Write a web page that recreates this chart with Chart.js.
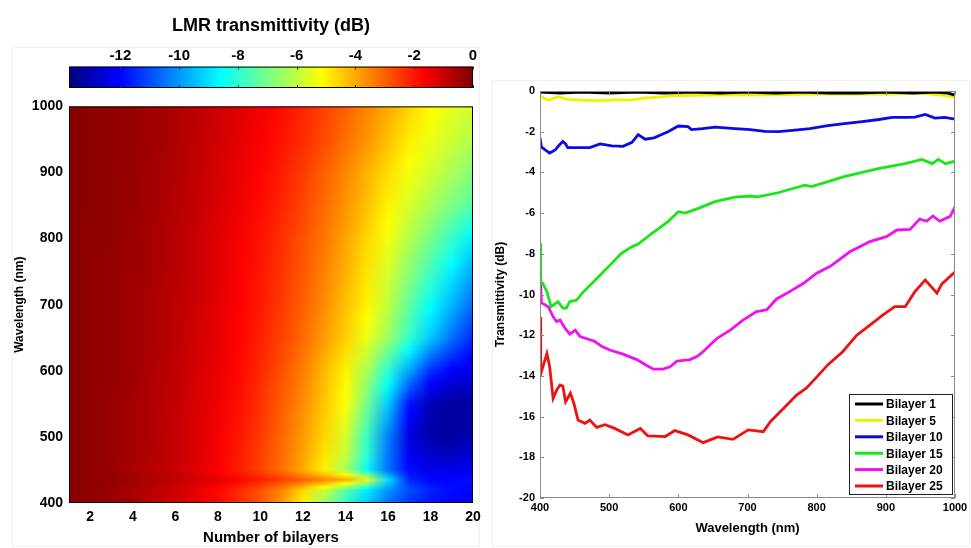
<!DOCTYPE html>
<html>
<head>
<meta charset="utf-8">
<script src="https://cdn.jsdelivr.net/npm/chart.js@4.4.0/dist/chart.umd.min.js"></script>
<style>
  body { margin: 0; background: #fff; }
  #wrap { position: relative; width: 971px; height: 548px; overflow: hidden; }
  canvas { position: absolute; }
  .frame { position: absolute; border: 1px solid #f0f0f0; }
</style>
</head>
<body>
<div id="wrap">
  <div class="frame" style="left:12px;top:47px;width:466px;height:498px"></div>
  <div class="frame" style="left:492px;top:80px;width:476px;height:465px"></div>
  <canvas id="barChart" width="490" height="92" style="left:0;top:0"></canvas>
  <canvas id="heatChart" width="490" height="456" style="left:0;top:92px"></canvas>
  <canvas id="lineChart" width="481" height="478" style="left:490px;top:70px"></canvas>
</div>
<script>
// ---- heatmap data (LMR transmittivity, dB) ----
const bilayers = [1, 2, 3, 4, 5, 6, 7, 8, 9, 10, 11, 12, 13, 14, 15, 16, 17, 18, 19, 20];
const bilayerTicks = [2, 4, 6, 8, 10, 12, 14, 16, 18, 20];
const heatWl = [400, 420, 435, 450, 475, 500, 550, 600, 650, 700, 750, 800, 850, 900, 950, 1000];
const heatDb = [
  [-0.1,-0.2,-0.35,-0.55,-0.8,-1.05,-1.4,-1.8,-2.3,-2.9,-3.7,-5.0,-6.5,-8.0,-9.3,-10.5,-11.3,-11.8,-12.0,-12.1],
  [-0.1,-0.2,-0.35,-0.55,-0.8,-1.05,-1.4,-1.8,-2.25,-2.8,-3.5,-4.6,-5.8,-7.3,-8.8,-10.0,-11.0,-11.6,-11.9,-12.0],
  [-0.1,-0.2,-0.3,-0.45,-0.6,-0.85,-1.1,-1.4,-1.75,-2.1,-2.5,-3.0,-3.5,-4.0,-5.5,-9.0,-11.5,-12.0,-12.0,-11.8],
  [-0.1,-0.2,-0.35,-0.55,-0.75,-1.0,-1.3,-1.7,-2.1,-2.6,-3.2,-4.0,-5.0,-6.3,-8.5,-10.5,-11.9,-12.3,-12.4,-12.2],
  [-0.1,-0.2,-0.35,-0.5,-0.7,-0.95,-1.25,-1.6,-2.05,-2.55,-3.15,-3.9,-4.8,-5.9,-8.0,-10.4,-12.2,-12.8,-12.9,-12.6],
  [-0.1,-0.2,-0.35,-0.5,-0.7,-0.95,-1.25,-1.6,-2.0,-2.5,-3.1,-3.8,-4.6,-5.7,-7.8,-10.3,-12.4,-13.2,-13.3,-13.1],
  [-0.1,-0.2,-0.35,-0.5,-0.7,-0.9,-1.2,-1.5,-1.9,-2.4,-2.95,-3.6,-4.4,-5.2,-7.0,-9.3,-11.8,-13.0,-13.3,-13.3],
  [-0.1,-0.2,-0.3,-0.45,-0.65,-0.85,-1.15,-1.45,-1.8,-2.25,-2.8,-3.4,-4.2,-5.0,-6.3,-8.0,-9.8,-11.4,-12.1,-12.4],
  [-0.1,-0.2,-0.3,-0.45,-0.6,-0.8,-1.1,-1.4,-1.75,-2.15,-2.6,-3.15,-3.8,-4.5,-5.4,-6.5,-7.9,-9.3,-10.5,-11.5],
  [-0.1,-0.2,-0.3,-0.45,-0.6,-0.8,-1.05,-1.35,-1.7,-2.05,-2.5,-3.0,-3.6,-4.3,-5.0,-6.0,-7.3,-8.5,-9.6,-10.6],
  [-0.1,-0.2,-0.3,-0.4,-0.55,-0.75,-1.0,-1.3,-1.65,-2.0,-2.4,-2.9,-3.45,-4.1,-4.8,-5.7,-6.7,-7.7,-8.8,-9.8],
  [-0.1,-0.2,-0.25,-0.4,-0.55,-0.75,-1.0,-1.3,-1.6,-1.95,-2.35,-2.8,-3.3,-3.9,-4.6,-5.3,-6.2,-7.0,-7.9,-8.8],
  [-0.1,-0.15,-0.25,-0.35,-0.5,-0.7,-0.95,-1.2,-1.5,-1.85,-2.2,-2.65,-3.15,-3.7,-4.3,-5.0,-5.7,-6.3,-6.9,-7.5],
  [-0.1,-0.15,-0.25,-0.35,-0.5,-0.65,-0.9,-1.15,-1.45,-1.75,-2.1,-2.5,-3.0,-3.5,-4.1,-4.7,-5.3,-5.8,-6.3,-6.8],
  [-0.1,-0.15,-0.2,-0.3,-0.45,-0.6,-0.85,-1.1,-1.35,-1.65,-1.95,-2.3,-2.7,-3.2,-3.7,-4.3,-4.9,-5.4,-5.8,-6.2],
  [-0.1,-0.15,-0.2,-0.3,-0.45,-0.6,-0.8,-1.05,-1.3,-1.55,-1.85,-2.2,-2.6,-3.0,-3.5,-4.0,-4.6,-5.1,-5.5,-5.8]
];
const colorbarTicks = [-12, -10, -8, -6, -4, -2, 0];
const dbMin = -13.75, dbMax = 0;

// ---- spectra (transmittivity, dB) ----
const wlB1 = [400,430,460,500,540,580,620,660,700,740,780,820,860,900,940,970,990,1000];
const dbB1 = [-0.05,-0.1,-0.05,-0.1,-0.05,-0.1,-0.05,-0.1,-0.05,-0.1,-0.05,-0.1,-0.1,-0.05,-0.1,-0.05,-0.1,-0.2];
const wlB5 = [400,405,412,420,428,438,460,490,510,530,550,570,600,650,700,750,800,850,900,950,980,1000];
const dbB5 = [-0.2,-0.35,-0.45,-0.35,-0.28,-0.4,-0.45,-0.48,-0.42,-0.45,-0.35,-0.3,-0.22,-0.2,-0.2,-0.18,-0.15,-0.15,-0.15,-0.1,-0.2,-0.3];
const wlB10 = [400,402,408,414,422,428,433,437,440,455,472,487,504,520,533,542,547,552,565,575,585,600,614,619,635,653,682,704,725,745,769,790,816,840,866,890,909,930,942,957,971,985,1000];
const dbB10 = [-2.3,-2.75,-2.9,-3.05,-2.9,-2.65,-2.48,-2.6,-2.78,-2.78,-2.78,-2.6,-2.7,-2.72,-2.52,-2.14,-2.25,-2.37,-2.3,-2.15,-2.0,-1.72,-1.75,-1.9,-1.85,-1.78,-1.85,-1.9,-1.98,-2.0,-1.92,-1.85,-1.7,-1.6,-1.5,-1.4,-1.3,-1.3,-1.28,-1.15,-1.33,-1.3,-1.38];
const wlB15 = [400,401,404,410,416,426,433,438,443,453,461,480,499,518,533,542,562,585,600,610,629,653,682,704,715,744,783,793,841,889,928,952,967,976,986,1000];
const dbB15 = [-7.48,-9.45,-9.45,-9.86,-10.6,-10.35,-10.67,-10.67,-10.35,-10.27,-9.93,-9.29,-8.63,-7.97,-7.65,-7.52,-6.99,-6.42,-5.93,-6.0,-5.77,-5.44,-5.22,-5.16,-5.2,-5.0,-4.63,-4.7,-4.2,-3.82,-3.57,-3.36,-3.57,-3.36,-3.57,-3.45];
const wlB20 = [400,402,412,419,424,429,436,443,451,458,470,479,489,501,520,540,555,564,578,588,598,617,627,636,656,675,694,713,728,742,761,781,800,819,829,848,877,901,916,935,949,959,968,978,993,1000];
const dbB20 = [-8.6,-10.4,-10.6,-11.1,-11.33,-11.25,-11.65,-11.95,-11.75,-12.07,-12.2,-12.3,-12.55,-12.73,-12.93,-13.2,-13.5,-13.67,-13.67,-13.55,-13.27,-13.2,-13.05,-12.8,-12.15,-11.75,-11.25,-10.84,-10.75,-10.22,-9.86,-9.45,-8.95,-8.63,-8.39,-7.9,-7.4,-7.16,-6.83,-6.8,-6.29,-6.4,-6.14,-6.4,-6.16,-5.7];
const wlB25 = [400,401,410,414,419,424,429,433,437,440,444,449,455,465,472,482,494,508,527,545,556,581,595,614,636,657,679,701,723,733,752,771,785,800,816,838,858,877,896,913,928,942,957,974,981,990,1000];
const dbB25 = [-11.1,-13.9,-12.9,-13.55,-15.1,-14.7,-14.45,-14.5,-15.27,-15.1,-14.85,-15.35,-16.17,-16.33,-16.17,-16.53,-16.4,-16.58,-16.9,-16.58,-16.95,-16.98,-16.69,-16.9,-17.28,-17.0,-17.12,-16.65,-16.74,-16.25,-15.6,-14.94,-14.6,-14.06,-13.46,-12.8,-12.0,-11.5,-11.0,-10.6,-10.6,-9.86,-9.29,-9.93,-9.48,-9.2,-8.9];

Chart.defaults.font.family = '"Liberation Sans", Arial, sans-serif';
Chart.defaults.font.weight = 'bold';
Chart.defaults.color = '#000';

// jet colour map
function jet(v) {
  let t = (v - dbMin) / (dbMax - dbMin);
  t = Math.min(1, Math.max(0, t));
  const c = k => Math.round(255 * Math.min(1, Math.max(0, k)));
  return 'rgb(' + c(1.5 - Math.abs(4 * t - 3)) + ',' + c(1.5 - Math.abs(4 * t - 2)) + ',' + c(1.5 - Math.abs(4 * t - 1)) + ')';
}

const fixedTicks = list => scale => { scale.ticks = list.map(v => ({ value: v })); };
const plainLabel = v => String(v);

// colour bar
const colorbarPlugin = {
  id: 'colorbar',
  beforeDatasetsDraw(chart) {
    const { ctx, chartArea: a, scales: { x } } = chart;
    const x0 = x.getPixelForValue(dbMin), x1 = x.getPixelForValue(dbMax);
    const g = ctx.createLinearGradient(x0, 0, x1, 0);
    for (let i = 0; i <= 64; i++) g.addColorStop(i / 64, jet(dbMin + (dbMax - dbMin) * i / 64));
    ctx.save();
    ctx.fillStyle = g;
    ctx.fillRect(x0, a.top, x1 - x0, a.bottom - a.top);
    ctx.strokeStyle = '#000';
    ctx.lineWidth = 1;
    ctx.strokeRect(x0 + 0.5, a.top + 0.5, x1 - x0 - 1, a.bottom - a.top - 1);
    ctx.strokeStyle = '#333';
    colorbarTicks.forEach(v => {
      const px = Math.round(x.getPixelForValue(v)) + 0.5;
      ctx.beginPath();
      ctx.moveTo(px, a.bottom); ctx.lineTo(px, a.bottom - 3);
      ctx.moveTo(px, a.top); ctx.lineTo(px, a.top + 3);
      ctx.stroke();
    });
    ctx.restore();
  }
};

new Chart(document.getElementById('barChart'), {
  type: 'scatter',
  data: { datasets: [{ data: [] }] },
  options: {
    responsive: false,
    animation: false,
    layout: { padding: { left: 69, right: 17, top: 0, bottom: 4 } },
    plugins: {
      legend: { display: false },
      tooltip: { enabled: false },
      title: { display: true, text: 'LMR transmittivity (dB)', font: { size: 18 }, color: '#000', padding: { top: 15, bottom: 6 } }
    },
    scales: {
      x: {
        type: 'linear', position: 'top', min: dbMin, max: dbMax,
        afterBuildTicks: fixedTicks(colorbarTicks),
        afterFit: s => { s.height = 24; },
        grid: { display: false, drawTicks: false },
        border: { display: false },
        ticks: { font: { size: 15 }, padding: 2 }
      },
      y: { display: false, min: 0, max: 1 }
    }
  },
  plugins: [colorbarPlugin]
});

// heat map, shaded smoothly between the measured rows and columns
const heatPlugin = {
  id: 'heat',
  beforeDatasetsDraw(chart) {
    const { ctx, chartArea: a, scales: { x, y } } = chart;
    const bFirst = bilayers[0], bLast = bilayers[bilayers.length - 1];
    const x0 = x.getPixelForValue(bFirst), x1 = x.getPixelForValue(bLast);
    ctx.save();
    ctx.beginPath();
    ctx.rect(a.left, a.top, a.width, a.height);
    ctx.clip();
    for (let py = Math.floor(a.top); py < a.bottom; py++) {
      const wl = y.getValueForPixel(py + 0.5);
      let k = 0;
      while (k < heatWl.length - 2 && heatWl[k + 1] < wl) k++;
      let f = (wl - heatWl[k]) / (heatWl[k + 1] - heatWl[k]);
      f = Math.min(1, Math.max(0, f));
      const g = ctx.createLinearGradient(x0, 0, x1, 0);
      bilayers.forEach((b, j) => {
        const v = heatDb[k][j] * (1 - f) + heatDb[k + 1][j] * f;
        g.addColorStop((b - bFirst) / (bLast - bFirst), jet(v));
      });
      ctx.fillStyle = g;
      ctx.fillRect(x0, py, x1 - x0, 1);
    }
    ctx.restore();
    ctx.save();
    ctx.strokeStyle = '#000';
    ctx.strokeRect(a.left + 0.5, a.top + 0.5, a.width - 1, a.height - 1);
    ctx.restore();
  }
};

new Chart(document.getElementById('heatChart'), {
  type: 'scatter',
  data: { datasets: [{ data: [] }] },
  options: {
    responsive: false,
    animation: false,
    layout: { padding: { left: 0, right: 17, top: 12, bottom: 0 } },
    plugins: { legend: { display: false }, tooltip: { enabled: false } },
    scales: {
      x: {
        type: 'linear', min: 1, max: 20,
        afterBuildTicks: fixedTicks(bilayerTicks),
        afterFit: s => { s.height = 45; },
        grid: { display: false, drawTicks: false },
        border: { display: false },
        ticks: { font: { size: 14 }, padding: 6, callback: plainLabel },
        title: { display: true, text: 'Number of bilayers', font: { size: 15 }, padding: { top: 0, bottom: 1 } }
      },
      y: {
        type: 'linear', min: 400, max: 1000,
        ticks: { stepSize: 100, font: { size: 14 }, padding: 6, callback: plainLabel },
        afterFit: s => { s.width = 69; },
        grid: { display: false, drawTicks: false },
        border: { display: false },
        title: { display: true, text: 'Wavelength (nm)', font: { size: 12 }, padding: { top: 12, bottom: 0 } }
      }
    }
  },
  plugins: [heatPlugin]
});

// spectra
const spectra = [
  { label: 'Bilayer 1', wl: wlB1, db: dbB1, color: '#000000' },
  { label: 'Bilayer 5', wl: wlB5, db: dbB5, color: '#f2f200' },
  { label: 'Bilayer 10', wl: wlB10, db: dbB10, color: '#0a0ae6' },
  { label: 'Bilayer 15', wl: wlB15, db: dbB15, color: '#19e619' },
  { label: 'Bilayer 20', wl: wlB20, db: dbB20, color: '#f010f0' },
  { label: 'Bilayer 25', wl: wlB25, db: dbB25, color: '#ee1111' }
];

const boxPlugin = {
  id: 'box',
  afterDatasetsDraw(chart) {
    const { ctx, chartArea: a, scales: { x, y } } = chart;
    ctx.save();
    ctx.strokeStyle = '#8a8a8a';
    ctx.lineWidth = 1;
    ctx.strokeRect(a.left + 0.5, a.top + 0.5, a.width - 1, a.height - 1);
    ctx.beginPath();
    y.ticks.forEach(t => {
      const py = Math.round(y.getPixelForValue(t.value)) + 0.5;
      ctx.moveTo(a.left, py); ctx.lineTo(a.left + 4, py);
      ctx.moveTo(a.right, py); ctx.lineTo(a.right - 4, py);
    });
    x.ticks.forEach(t => {
      const px = Math.round(x.getPixelForValue(t.value)) + 0.5;
      ctx.moveTo(px, a.bottom); ctx.lineTo(px, a.bottom - 4);
      ctx.moveTo(px, a.top); ctx.lineTo(px, a.top + 4);
    });
    ctx.stroke();

    // legend in the lower right corner
    const rowH = 16.4, boxW = 103, boxH = 100;
    const bx = a.right - 3 - boxW, by = a.bottom - 4 - boxH;
    ctx.fillStyle = '#fff';
    ctx.fillRect(bx, by, boxW, boxH);
    ctx.strokeStyle = '#222';
    ctx.strokeRect(bx + 0.5, by + 0.5, boxW, boxH);
    ctx.font = 'bold 12px "Liberation Sans", Arial, sans-serif';
    ctx.textBaseline = 'middle';
    chart.data.datasets.forEach((ds, i) => {
      const cy = by + 10 + i * rowH;
      ctx.strokeStyle = ds.borderColor;
      ctx.lineWidth = 3;
      ctx.beginPath();
      ctx.moveTo(bx + 6, cy); ctx.lineTo(bx + 34, cy);
      ctx.stroke();
      ctx.fillStyle = '#000';
      ctx.fillText(ds.label, bx + 37, cy + 1);
    });
    ctx.restore();
  }
};

new Chart(document.getElementById('lineChart'), {
  type: 'line',
  data: {
    datasets: spectra.map(s => ({
      label: s.label,
      data: s.wl.map((w, i) => ({ x: w, y: s.db[i] })),
      borderColor: s.color,
      borderWidth: 2.8,
      pointRadius: 0,
      tension: 0,
      fill: false
    }))
  },
  options: {
    responsive: false,
    animation: false,
    layout: { padding: { left: 0, right: 16, top: 21, bottom: 10 } },
    plugins: { legend: { display: false }, tooltip: { enabled: false } },
    scales: {
      x: {
        type: 'linear', min: 400, max: 1000,
        ticks: { stepSize: 100, font: { size: 11 }, padding: 3, callback: plainLabel },
        afterFit: s => { s.height = 40; },
        grid: { display: false, drawTicks: false },
        border: { display: false },
        title: { display: true, text: 'Wavelength (nm)', font: { size: 13 }, padding: { top: 0, bottom: 2 } }
      },
      y: {
        type: 'linear', min: -20, max: 0,
        ticks: { stepSize: 2, font: { size: 11 }, padding: 5 },
        afterFit: s => { s.width = 50; },
        grid: { display: false, drawTicks: false },
        border: { display: false },
        title: { display: true, text: 'Transmittivity (dB)', font: { size: 12 }, padding: { top: 3, bottom: 0 } }
      }
    }
  },
  plugins: [boxPlugin]
});
</script>
</body>
</html>
